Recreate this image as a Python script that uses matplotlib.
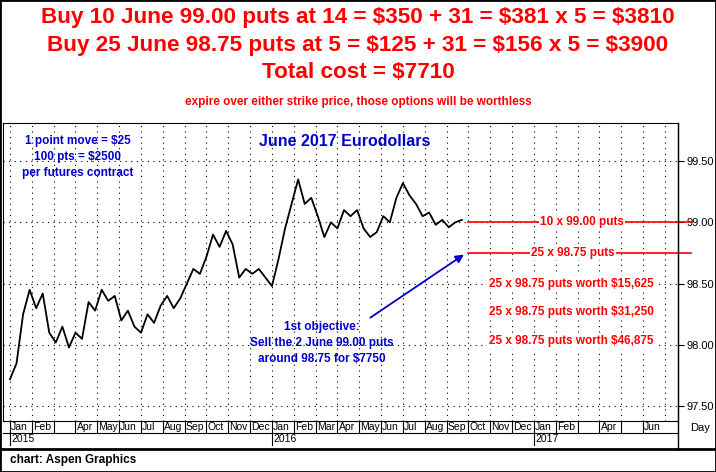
import matplotlib.pyplot as plt
from matplotlib.transforms import blended_transform_factory

plt.rcParams['font.family'] = ['Liberation Sans', 'DejaVu Sans']

# price path (month index: 0 = Jan 2015)
months = [0.0, 0.3, 0.6, 0.9, 1.2, 1.5, 1.8, 2.1, 2.4, 2.7, 3.0, 3.3, 3.6, 3.9, 4.2, 4.5,
          4.8, 5.1, 5.4, 5.7, 6.0, 6.3, 6.6, 6.9, 7.2, 7.5, 7.8, 8.1, 8.4, 8.7, 9.0, 9.3,
          9.6, 9.9, 10.2, 10.5, 10.8, 11.1, 11.4, 11.7, 12.0, 12.3, 12.6, 12.9, 13.2,
          13.5, 13.8, 14.1, 14.4, 14.7, 15.0, 15.3, 15.6, 15.9, 16.2, 16.5, 16.8, 17.1,
          17.4, 17.7, 18.0, 18.3, 18.6, 18.9, 19.2, 19.5, 19.8, 20.1, 20.4, 20.7]
prices = [97.72, 97.85, 98.25, 98.45, 98.30, 98.42, 98.10, 98.02, 98.15, 97.98, 98.10,
          98.05, 98.35, 98.28, 98.45, 98.36, 98.40, 98.20, 98.28, 98.15, 98.10, 98.25,
          98.18, 98.32, 98.40, 98.30, 98.38, 98.50, 98.62, 98.58, 98.72, 98.90, 98.80,
          98.93, 98.82, 98.55, 98.62, 98.58, 98.62, 98.55, 98.48, 98.70, 98.95, 99.15,
          99.35, 99.15, 99.20, 99.05, 98.88, 99.00, 98.95, 99.10, 99.05, 99.10, 98.95,
          98.88, 98.92, 99.05, 99.00, 99.20, 99.32, 99.22, 99.15, 99.05, 99.08, 98.98,
          99.02, 98.96, 99.00, 99.02]

month_names = ['Jan', 'Feb', '', 'Apr', 'May', 'Jun', 'Jul', 'Aug', 'Sep', 'Oct', 'Nov', 'Dec',
               'Jan', 'Feb', 'Mar', 'Apr', 'May', 'Jun', 'Jul', 'Aug', 'Sep', 'Oct', 'Nov', 'Dec',
               'Jan', 'Feb', '', 'Apr', '', 'Jun']
years = [(0, '2015'), (12, '2016'), (24, '2017')]
y_ticks = [97.5, 98.0, 98.5, 99.0, 99.5]
y_labels = ['97.50', '98.00', '98.50', '99.00', '99.50']

W, H = 716, 472
fig = plt.figure(figsize=(W / 100, H / 100), dpi=100)
ax = fig.add_axes([3 / W, 51 / H, 675 / W, 298 / H])
ax.set_xlim(-0.32, 30.6)
ax.set_ylim(97.38, 99.81)

for m in range(31):
    ax.axvline(m, color='black', lw=0.8, ls=(0, (1, 4)))
for v in y_ticks:
    ax.axhline(v, color='black', lw=0.8, ls=(0, (1, 4)))

ax.plot(months, prices, color='black', lw=1.3)

ax.yaxis.tick_right()
ax.set_yticks(y_ticks)
ax.set_yticklabels(y_labels, fontsize=8)
ax.tick_params(axis='y', length=4, pad=2)
ax.set_xticks([])

# month / year bands
tr = blended_transform_factory(ax.transData, ax.transAxes)
for i, name in enumerate(month_names):
    ax.plot([i, i], [-0.04, 0], transform=tr, color='black', lw=0.8, clip_on=False)
    ax.text(i + 0.05, -0.02, name, transform=tr, fontsize=7.5, va='center', ha='left')
for i, yr in years:
    ax.plot([i, i], [-0.08, -0.04], transform=tr, color='black', lw=0.8, clip_on=False)
    ax.text(i + 0.05, -0.06, yr, transform=tr, fontsize=7.5, va='center', ha='left')
ax.plot([-0.32, 30.6], [-0.04, -0.04], transform=tr, color='black', lw=0.8, clip_on=False)
fig.text(690 / W, 1 - 428 / H, 'Day', fontsize=8, ha='left', va='center')
fig.add_artist(plt.Line2D([0, 1], [1 - 449 / H] * 2, color='black', lw=2))
fig.add_artist(plt.Line2D([678 / W, 678 / W], [1 - 449 / H, 1 - 123 / H], color='black', lw=1))
fig.text(10 / W, 1 - 460 / H, 'chart: Aspen Graphics', fontsize=8.5, weight='bold', va='center')
fig.add_artist(plt.Rectangle((0, 0), 1, 1, fill=False, lw=2, color='black', transform=fig.transFigure))

# headline
red = '#ff0000'
blue = '#0000cc'
fig.text(0.5, 1 - 18 / H, 'Buy 10 June 99.00 puts at 14 = $350 + 31 = $381 x 5 = $3810',
         color=red, fontsize=16.2, weight='bold', ha='center', va='center')
fig.text(0.5, 1 - 45 / H, 'Buy 25 June 98.75 puts at 5 = $125 + 31 = $156 x 5 = $3900',
         color=red, fontsize=16.2, weight='bold', ha='center', va='center')
fig.text(0.5, 1 - 72 / H, 'Total cost = $7710',
         color=red, fontsize=16.2, weight='bold', ha='center', va='center')
fig.text(0.5, 1 - 102 / H, 'expire over either strike price, those options will be worthless',
         color=red, fontsize=8.5, weight='bold', ha='center', va='center')

# in-chart notes
fig.text(345 / W, 1 - 142 / H, 'June 2017 Eurodollars', color=blue, fontsize=11.5,
         weight='bold', ha='center', va='center')
fig.text(78 / W, 1 - 157 / H, '1 point move = $25\n100 pts = $2500\nper futures contract',
         color=blue, fontsize=8.5, weight='bold', ha='center', va='center', linespacing=1.4)
fig.text(322 / W, 1 - 343 / H, '1st objective:\nSell the 2 June 99.00 puts\naround 98.75 for $7750',
         color=blue, fontsize=8.5, weight='bold', ha='center', va='center', linespacing=1.4)
ax.annotate('', xy=(20.9, 98.75), xytext=(16.4, 98.21),
            arrowprops=dict(arrowstyle='-|>', color=blue, lw=1.3, mutation_scale=12))

for level, label, xc in [(99.0, '10 x 99.00 puts', 26.2), (98.75, '25 x 98.75 puts', 25.8)]:
    ax.plot([21.0, 31.2], [level, level], color=red, lw=1.2, clip_on=False)
    ax.text(xc, level, label, color=red, fontsize=8.5, weight='bold', ha='center', va='center',
            bbox=dict(facecolor='white', edgecolor='none', pad=1))
for level, worth in [(98.5, '$15,625'), (98.27, '$31,250'), (98.03, '$46,875')]:
    ax.text(25.7, level, '25 x 98.75 puts worth ' + worth, color=red, fontsize=8.5,
            weight='bold', ha='center', va='center',
            bbox=dict(facecolor='white', edgecolor='none', pad=1))

fig.savefig('out.png', dpi=100)
